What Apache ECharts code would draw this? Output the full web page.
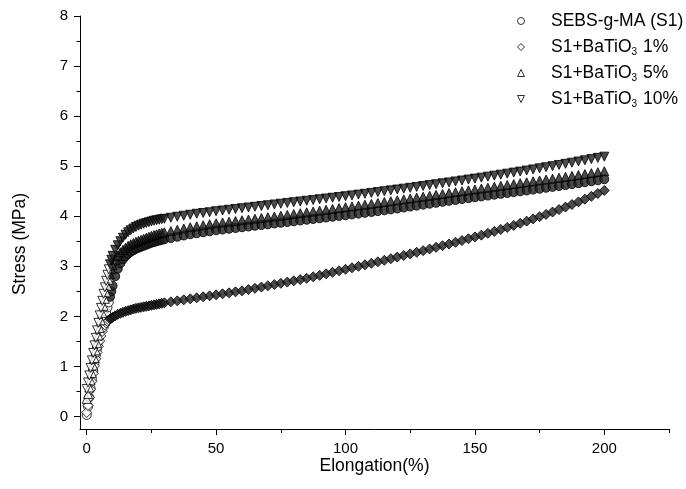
<!DOCTYPE html>
<html>
<head>
<meta charset="utf-8">
<script src="https://cdn.jsdelivr.net/npm/echarts@6/dist/echarts.min.js"></script>
<style>
  html, body { margin: 0; padding: 0; background: #fff; }
  #chart { width: 686px; height: 489px; }
</style>
</head>
<body>
<div id="chart"></div>
<script>
// Elongation (%) at which stress was sampled
const elongation = [
  0, 0.5, 1, 1.5, 2, 2.5, 3, 3.5, 4, 4.5, 5, 5.5, 6, 6.5, 7, 7.5, 8, 8.5, 9, 9.5, 10,
  11, 12, 13, 14, 15, 16, 17, 18, 19, 20, 21, 22, 23, 24, 25, 26, 27, 28, 29, 30,
  32.5, 35, 37.5, 40, 42.5, 45, 47.5, 50, 52.5, 55, 57.5, 60, 62.5, 65, 67.5, 70,
  72.5, 75, 77.5, 80, 82.5, 85, 87.5, 90, 92.5, 95, 97.5, 100,
  102.5, 105, 107.5, 110, 112.5, 115, 117.5, 120, 122.5, 125, 127.5, 130, 132.5, 135,
  137.5, 140, 142.5, 145, 147.5, 150, 152.5, 155, 157.5, 160, 162.5, 165, 167.5, 170,
  172.5, 175, 177.5, 180, 182.5, 185, 187.5, 190, 192.5, 195, 197.5, 200
];

// Stress (MPa): neat SEBS-g-MA
const stressS1 = [
  0.03, 0.20, 0.38, 0.56, 0.74, 0.91, 1.07, 1.22, 1.36, 1.49, 1.61, 1.72, 1.82, 1.91, 2.00, 2.09, 2.18, 2.28, 2.39, 2.50, 2.61,
  2.80, 2.95, 3.06, 3.14, 3.20, 3.25, 3.29, 3.32, 3.35, 3.37, 3.39, 3.41, 3.43, 3.45, 3.47, 3.485, 3.50, 3.515, 3.53, 3.54,
  3.565, 3.59, 3.615, 3.64, 3.66, 3.68, 3.70, 3.72, 3.735, 3.75, 3.765, 3.78, 3.795, 3.81, 3.825, 3.84,
  3.855, 3.87, 3.885, 3.90, 3.915, 3.93, 3.945, 3.96, 3.975, 3.99, 4.005, 4.02,
  4.036, 4.052, 4.068, 4.085, 4.102, 4.119, 4.137, 4.155, 4.174, 4.193, 4.212, 4.231, 4.25, 4.269,
  4.288, 4.307, 4.325, 4.343, 4.361, 4.379, 4.396, 4.413, 4.43, 4.447, 4.464, 4.481, 4.498, 4.515,
  4.532, 4.55, 4.568, 4.586, 4.604, 4.622, 4.641, 4.66, 4.68, 4.70, 4.72, 4.74
];

// Stress (MPa): S1 + 1% BaTiO3
const stress1 = [
  0.08, 0.22, 0.38, 0.54, 0.70, 0.86, 1.01, 1.15, 1.28, 1.40, 1.51, 1.61, 1.70, 1.77, 1.83, 1.87, 1.90, 1.925, 1.945, 1.963, 1.98,
  2.01, 2.04, 2.06, 2.08, 2.10, 2.115, 2.13, 2.145, 2.16, 2.17, 2.18, 2.19, 2.20, 2.21, 2.22, 2.23, 2.24, 2.25, 2.26, 2.27,
  2.29, 2.31, 2.33, 2.35, 2.37, 2.39, 2.41, 2.43, 2.45, 2.47, 2.49, 2.51, 2.535, 2.56, 2.585, 2.61,
  2.635, 2.66, 2.685, 2.71, 2.735, 2.76, 2.79, 2.82, 2.85, 2.88, 2.91, 2.94,
  2.97, 3.00, 3.03, 3.06, 3.09, 3.12, 3.152, 3.184, 3.216, 3.248, 3.28, 3.313, 3.346, 3.379,
  3.412, 3.445, 3.48, 3.515, 3.55, 3.586, 3.622, 3.659, 3.697, 3.736, 3.776, 3.817, 3.859, 3.902,
  3.946, 3.991, 4.037, 4.084, 4.133, 4.183, 4.234, 4.287, 4.341, 4.397, 4.455, 4.515
];

// Stress (MPa): S1 + 5% BaTiO3
const stress5 = [
  0.35, 0.45, 0.58, 0.72, 0.87, 1.02, 1.17, 1.32, 1.47, 1.62, 1.77, 1.92, 2.07, 2.21, 2.35, 2.48, 2.61, 2.73, 2.84, 2.94, 3.02,
  3.13, 3.21, 3.28, 3.33, 3.37, 3.41, 3.44, 3.465, 3.49, 3.51, 3.53, 3.55, 3.57, 3.59, 3.61, 3.625, 3.64, 3.655, 3.67, 3.68,
  3.705, 3.73, 3.755, 3.78, 3.80, 3.82, 3.84, 3.86, 3.875, 3.89, 3.905, 3.92, 3.935, 3.95, 3.965, 3.98,
  3.995, 4.01, 4.027, 4.044, 4.061, 4.078, 4.095, 4.112, 4.129, 4.146, 4.163, 4.18,
  4.197, 4.214, 4.231, 4.248, 4.265, 4.283, 4.301, 4.319, 4.337, 4.355, 4.373, 4.391, 4.409, 4.427,
  4.445, 4.463, 4.481, 4.499, 4.517, 4.535, 4.553, 4.571, 4.589, 4.607, 4.625, 4.643, 4.661, 4.679,
  4.697, 4.715, 4.733, 4.751, 4.769, 4.787, 4.805, 4.823, 4.842, 4.861, 4.88, 4.90
];

// Stress (MPa): S1 + 10% BaTiO3
const stress10 = [
  0.55, 0.68, 0.82, 0.97, 1.12, 1.27, 1.42, 1.57, 1.72, 1.87, 2.02, 2.17, 2.31, 2.45, 2.58, 2.71, 2.83, 2.94, 3.04, 3.13, 3.21,
  3.33, 3.42, 3.50, 3.57, 3.63, 3.68, 3.72, 3.755, 3.785, 3.81, 3.83, 3.85, 3.865, 3.88, 3.895, 3.91, 3.92, 3.93, 3.94, 3.95,
  3.97, 3.99, 4.01, 4.03, 4.05, 4.065, 4.08, 4.10, 4.115, 4.13, 4.145, 4.16, 4.175, 4.19, 4.205, 4.22,
  4.235, 4.25, 4.265, 4.28, 4.295, 4.31, 4.325, 4.34, 4.355, 4.37, 4.385, 4.40,
  4.416, 4.432, 4.449, 4.466, 4.483, 4.50, 4.517, 4.534, 4.551, 4.568, 4.586, 4.604, 4.622, 4.64,
  4.658, 4.676, 4.695, 4.714, 4.733, 4.752, 4.771, 4.791, 4.811, 4.831, 4.851, 4.872, 4.893, 4.914,
  4.935, 4.957, 4.979, 5.001, 5.024, 5.047, 5.07, 5.094, 5.118, 5.142, 5.166, 5.19
];

const seriesNames = ['SEBS-g-MA (S1)', 'S1+BaTiO3 1%', 'S1+BaTiO3 5%', 'S1+BaTiO3 10%'];

// Axis tick positions
const xTicks = [0, 50, 100, 150, 200];
const xMinorTicks = [25, 75, 125, 175, 225];
const yTicks = [0, 1, 2, 3, 4, 5, 6, 7, 8];
const yMinorTicks = [0.5, 1.5, 2.5, 3.5, 4.5, 5.5, 6.5, 7.5];

const FONT = '"Liberation Sans", Arial, sans-serif';

// marker outlines as paths so they keep their aspect in the legend too
const SYMBOLS = {
  circle: 'circle',
  diamond: 'path://M5,0L10,5L5,10L0,5Z',
  triangleUp: 'path://M5,0L10,10L0,10Z',
  triangleDown: 'path://M0,0L10,0L5,10Z'
};

// open markers on the steep rise, densely overlapping dark markers along the plateau
const openStyle = { color: '#ffffff', borderColor: '#000000', borderWidth: 1 };
const bandStyle = { color: '#1f1f1f', borderColor: '#000000', borderWidth: 1 };

function toData(values) {
  return elongation.map((e, i) => ({
    value: [e, values[i]],
    itemStyle: e < 9 ? openStyle : bandStyle
  }));
}

const markers = [
  { name: seriesNames[0], values: stressS1, symbol: SYMBOLS.circle, size: 9 },
  { name: seriesNames[1], values: stress1, symbol: SYMBOLS.diamond, size: 10 },
  { name: seriesNames[2], values: stress5, symbol: SYMBOLS.triangleUp, size: 9 },
  { name: seriesNames[3], values: stress10, symbol: SYMBOLS.triangleDown, size: 9 }
];

const axisLineStyle = { color: '#000', width: 1 };

const chart = echarts.init(document.getElementById('chart'), null, { renderer: 'canvas' });

chart.setOption({
  animation: false,
  backgroundColor: '#ffffff',
  grid: { left: 80, right: 17, top: 16, bottom: 60 },
  legend: {
    orient: 'vertical',
    left: 517,
    top: 11,
    padding: 0,
    itemWidth: 50,
    itemHeight: 7,
    itemGap: 6,
    itemStyle: { color: '#ffffff', borderColor: '#000000', borderWidth: 1 },
    data: seriesNames,
    formatter: name => name.replace('BaTiO3', 'BaTiO{sub|3}'),
    textStyle: {
      fontFamily: FONT,
      fontSize: 17.5,
      color: '#000',
      lineHeight: 20,
      width: 134,
      rich: {
        sub: { fontFamily: FONT, fontSize: 10, color: '#000', lineHeight: 4, verticalAlign: 'bottom', padding: [0, 1, 0, 0] }
      }
    }
  },
  xAxis: [
    {
      type: 'value',
      min: -2.6,
      max: 225,
      name: 'Elongation(%)',
      nameLocation: 'middle',
      nameGap: 28,
      nameMoveOverlap: false,
      nameTextStyle: { fontFamily: FONT, fontSize: 17.5, color: '#000' },
      axisLine: { onZero: false, lineStyle: axisLineStyle },
      axisTick: { customValues: xTicks, length: 6, lineStyle: axisLineStyle },
      axisLabel: { customValues: xTicks, margin: 12, fontFamily: FONT, fontSize: 15, color: '#000' },
      splitLine: { show: false }
    },
    {
      type: 'value',
      position: 'bottom',
      min: -2.6,
      max: 225,
      axisLine: { show: false, onZero: false },
      axisTick: { customValues: xMinorTicks, length: 4, lineStyle: axisLineStyle },
      axisLabel: { show: false },
      splitLine: { show: false }
    }
  ],
  yAxis: [
    {
      type: 'value',
      min: -0.25,
      max: 8,
      axisLine: { show: true, onZero: false, lineStyle: axisLineStyle },
      axisTick: { show: true, customValues: yTicks, length: 6, lineStyle: axisLineStyle },
      axisLabel: { customValues: yTicks, margin: 12, fontFamily: FONT, fontSize: 15, color: '#000' },
      splitLine: { show: false }
    },
    {
      type: 'value',
      position: 'left',
      min: -0.25,
      max: 8,
      axisLine: { show: false, onZero: false },
      axisTick: { show: true, customValues: yMinorTicks, length: 3.5, lineStyle: axisLineStyle },
      axisLabel: { show: false },
      splitLine: { show: false }
    }
  ],
  graphic: [
    {
      type: 'text',
      x: 20,
      y: 244,
      rotation: Math.PI / 2,
      style: {
        text: 'Stress (MPa)',
        align: 'center',
        verticalAlign: 'middle',
        fontFamily: FONT,
        fontSize: 17.5,
        fill: '#000'
      }
    }
  ],
  series: markers.map(m => ({
    name: m.name,
    type: 'scatter',
    xAxisIndex: 0,
    yAxisIndex: 0,
    symbol: m.symbol,
    symbolSize: m.size,
    itemStyle: { color: '#ffffff', borderColor: '#000000', borderWidth: 1 },
    emphasis: { disabled: true },
    data: toData(m.values)
  }))
});
</script>
</body>
</html>
